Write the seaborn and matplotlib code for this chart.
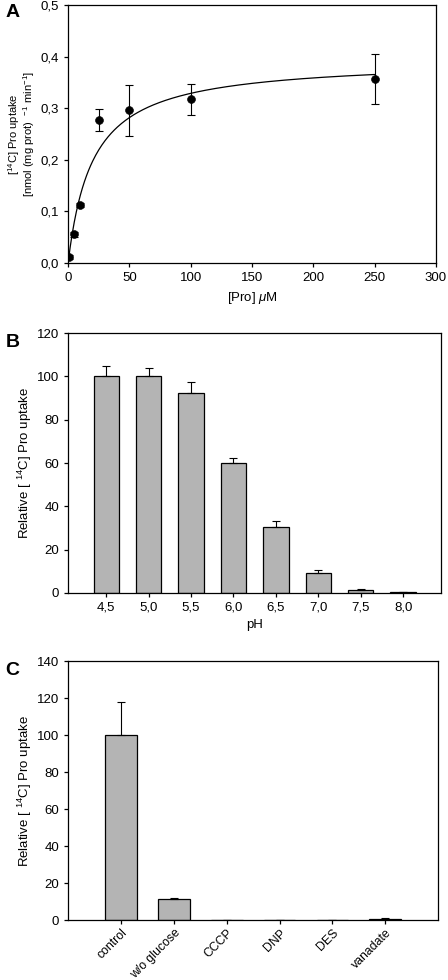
import numpy as np
import pandas as pd
import seaborn as sns
import matplotlib.pyplot as plt
from matplotlib.ticker import FuncFormatter

# Panel A: proline concentration dependence
pro_conc = [1, 5, 10, 25, 50, 100, 250]
pro_uptake = [0.012, 0.056, 0.112, 0.277, 0.296, 0.318, 0.357]
pro_err = [0.004, 0.005, 0.004, 0.021, 0.050, 0.030, 0.048]
# Michaelis-Menten fit parameters
vmax = 0.395
km = 20.0

# Panel B: pH dependence
ph_labels = ["4,5", "5,0", "5,5", "6,0", "6,5", "7,0", "7,5", "8,0"]
ph_values = [100, 100, 92.5, 60, 30.5, 9, 1.5, 0.3]
ph_err = [5, 4, 5, 2.5, 2.5, 1.7, 0.3, 0.1]

# Panel C: inhibitors
inh_labels = ["control", "w/o glucose", "CCCP", "DNP", "DES", "vanadate"]
inh_values = [100, 11.3, 0, 0, 0, 0.8]
inh_err = [18, 0.5, 0, 0, 0, 0.3]

sns.set_style("ticks")
plt.rcParams["font.family"] = ["Liberation Sans", "DejaVu Sans"]
plt.rcParams["font.size"] = 9.5
plt.rcParams["text.color"] = "black"
plt.rcParams["axes.labelcolor"] = "black"
plt.rcParams["xtick.color"] = "black"
plt.rcParams["ytick.color"] = "black"
plt.rcParams["axes.edgecolor"] = "black"
plt.rcParams["axes.linewidth"] = 0.9
plt.rcParams["xtick.major.size"] = 3
plt.rcParams["ytick.major.size"] = 3
plt.rcParams["mathtext.fontset"] = "custom"
plt.rcParams["mathtext.rm"] = "Liberation Sans"
plt.rcParams["mathtext.it"] = "Liberation Sans:italic"

comma = FuncFormatter(lambda v, p: f"{v:.1f}".replace(".", ","))

fig = plt.figure(figsize=(4.48, 9.8), dpi=100)
axA = fig.add_axes([0.152, 0.7316, 0.821, 0.263])
axB = fig.add_axes([0.152, 0.395, 0.833, 0.265])
axC = fig.add_axes([0.152, 0.0612, 0.826, 0.264])

# ---- A ----
df_a = pd.DataFrame({"conc": pro_conc, "uptake": pro_uptake})
xs = np.linspace(0, 250, 300)
fit = pd.DataFrame({"conc": xs, "uptake": vmax * xs / (km + xs)})
sns.lineplot(fit, x="conc", y="uptake", ax=axA, color="black", lw=0.9)
axA.errorbar(pro_conc, pro_uptake, yerr=pro_err, fmt="none", ecolor="black",
             elinewidth=0.8, capsize=3, capthick=0.8)
sns.scatterplot(df_a, x="conc", y="uptake", ax=axA, color="black", s=32,
                edgecolor="black", zorder=3)
axA.set_xlim(0, 300)
axA.set_ylim(0, 0.5)
axA.set_xticks(range(0, 301, 50))
axA.set_yticks(np.arange(0, 0.51, 0.1))
axA.yaxis.set_major_formatter(comma)
axA.set_xlabel("[Pro] $\\mu$M")
axA.set_ylabel("[$^{14}$C] Pro uptake\n[nmol (mg prot)$^{\\ \\ -1}$ min$^{-1}$]",
               linespacing=0.95, fontsize=8)
axA.yaxis.set_label_coords(-0.085, 0.5)

# ---- B ----
df_b = pd.DataFrame({"pH": ph_labels, "val": ph_values})
sns.barplot(df_b, x="pH", y="val", ax=axB, color="#b4b4b4", edgecolor="black",
            linewidth=0.9, width=0.6, saturation=1)
axB.errorbar(range(len(ph_labels)), ph_values, yerr=[np.zeros(len(ph_err)), ph_err],
             fmt="none", ecolor="black", elinewidth=0.8, capsize=3, capthick=0.8)
axB.set_xlim(-0.9, 7.9)
axB.set_ylim(0, 120)
axB.set_yticks(range(0, 121, 20))
axB.set_xlabel("pH")
axB.set_ylabel("Relative [ $^{14}$C] Pro uptake")
axB.yaxis.set_label_coords(-0.092, 0.5)

# ---- C ----
df_c = pd.DataFrame({"cond": inh_labels, "val": inh_values})
sns.barplot(df_c, x="cond", y="val", ax=axC, color="#b4b4b4", edgecolor="black",
            linewidth=0.9, width=0.6, saturation=1)
axC.errorbar(range(len(inh_labels)), inh_values, yerr=[np.zeros(len(inh_err)), inh_err],
             fmt="none", ecolor="black", elinewidth=0.8, capsize=3, capthick=0.8)
axC.set_xlim(-1, 6)
axC.set_ylim(0, 140)
axC.set_yticks(range(0, 141, 20))
axC.set_xlabel("")
axC.set_ylabel("Relative [ $^{14}$C] Pro uptake")
axC.yaxis.set_label_coords(-0.093, 0.5)

for ax in (axA, axB, axC):
    for s in ax.spines.values():
        s.set_visible(True)
    ax.tick_params(axis="both", labelsize=9.5, width=0.9, direction="out")

axC.tick_params(axis="x", labelsize=8.8, pad=2)
for lab in axC.get_xticklabels():
    lab.set_rotation(45)
    lab.set_ha("right")
    lab.set_rotation_mode("anchor")

for letter, y in (("A", 0.987), ("B", 0.651), ("C", 0.316)):
    fig.text(0.012, y, letter, fontsize=14, fontweight="bold", va="center")

fig.savefig("out.png", dpi=100)
